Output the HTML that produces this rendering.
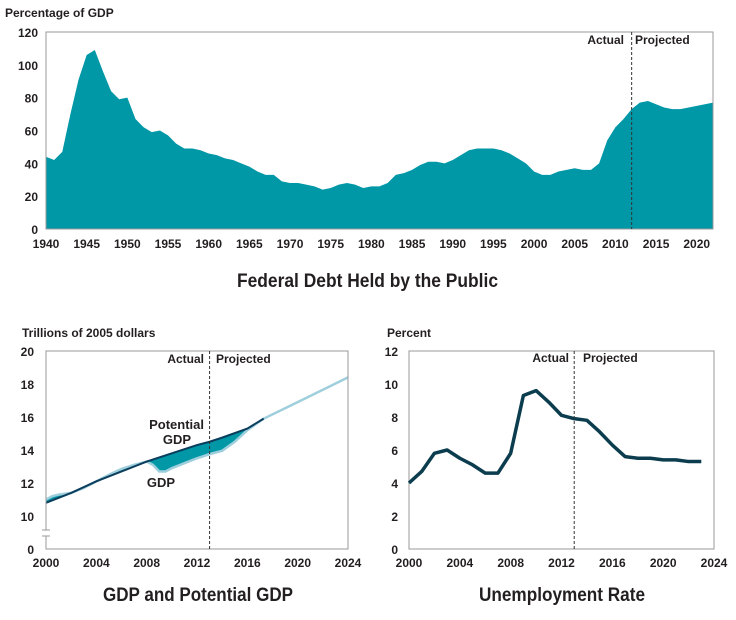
<!DOCTYPE html>
<html><head><meta charset="utf-8"><style>
body{margin:0;background:#fff}
svg{display:block;font-family:"Liberation Sans Narrow","Liberation Sans",sans-serif}
.t{font-weight:bold;fill:#231f20}
</style></head><body>
<svg id="s" width="736" height="620" viewBox="0 0 736 620"></svg>
<script>
const debtYears=[];for(let y=1940;y<=2022;y++)debtYears.push(y);
const debtValues=[44,42,47,70,91,106,109,96,84,79,80,67,62,59,60,57,52,49,49,48,46,45,43,42,40,38,35,33,33,29,28,28,27,26,24,25,27,28,27,25,26,26,28,33,34,36,39,41,41,40,42,45,48,49,49,49,48,46,43,40,35,33,33,35,36,37,36,36,40,54,62,67,73,77,78,76,74,73,73,74,75,76,77];
const debtXTicks=[1940,1945,1950,1955,1960,1965,1970,1975,1980,1985,1990,1995,2000,2005,2010,2015,2020];
const debtYTicks=[0,20,40,60,80,100,120];
const potYears=[2000,2002,2004,2006,2008,2010,2012,2013,2014,2016,2017.3];
const potValues=[10.8,11.4,12.1,12.7,13.3,13.8,14.3,14.5,14.75,15.3,15.9];
const gdpYears=[2000,2000.5,2001,2002,2003,2004,2005,2006,2007,2008,2008.5,2009,2009.5,2010,2011,2012,2013,2014,2015,2016,2017.3,2020,2024];
const gdpValues=[11.0,11.2,11.3,11.4,11.7,12.1,12.5,12.85,13.1,13.3,13.1,12.7,12.7,12.9,13.2,13.5,13.75,13.95,14.5,15.2,15.9,16.9,18.4];
const gdpYTicks=[10,12,14,16,18,20];
const xTicks2=[2000,2004,2008,2012,2016,2020,2024];
const unYears=[2000,2001,2002,2003,2004,2005,2006,2007,2008,2009,2010,2011,2012,2013,2014,2015,2016,2017,2018,2019,2020,2021,2022,2023];
const unValues=[4.0,4.7,5.8,6.0,5.5,5.1,4.6,4.6,5.8,9.3,9.6,8.9,8.1,7.9,7.8,7.1,6.3,5.6,5.5,5.5,5.4,5.4,5.3,5.3];
const unYTicks=[0,2,4,6,8,10,12];

const S=document.getElementById('s');const NS='http://www.w3.org/2000/svg';
function E(tag,at,txt){const e=document.createElementNS(NS,tag);for(const k in at)e.setAttribute(k,at[k]);if(txt!==undefined)e.textContent=txt;S.appendChild(e);return e;}
function T(x,y,s,size,anchor,name,fill,len){const at={x:x,y:y,'font-size':size,'text-anchor':anchor||'start',class:'t',fill:fill||'#231f20'};if(len){at.textLength=len;at.lengthAdjust='spacingAndGlyphs';}
const e=E('text',at,s);

return e;}

// top chart
const ax1=y=>46+(y-1940)*(713-46)/82, ay1=v=>229-v*(229-32)/120;
let d='M'+ax1(1940)+','+ay1(0);debtYears.forEach((y,i)=>d+='L'+ax1(y)+','+ay1(debtValues[i]));d+='L'+ax1(2022)+','+ay1(0)+'Z';
let a=E('path',{d:d,fill:'#0097a7'});


let f=E('rect',{x:46,y:32,width:667,height:197,fill:'none',stroke:'#999','stroke-width':1});


debtYTicks.forEach(v=>T(38,ay1(v)+5,v,12,'end','debt-y-tick'));
debtXTicks.forEach(y=>T(ax1(y),248,y,12,'middle','debt-x-tick'));
let l=E('line',{x1:ax1(2012),x2:ax1(2012),y1:32,y2:229,stroke:'#333','stroke-dasharray':'3,2','stroke-width':1});


T(624,44,'Actual',12,'end','debt-actual-label','#555');
T(635,44,'Projected',12,'start','debt-projected-label','#555');
T(5,17,'Percentage of GDP',12,'start','debt-y-axis-title');
T(237,287,'Federal Debt Held by the Public',19,'start','debt-chart-title',null,261);

// GDP chart
const ax2=y=>46+(y-2000)*(348-46)/24, ay2=v=>516-(v-10)*(516-351)/10;
let fp='';potYears.forEach((y,i)=>fp+=(i?'L':'M')+ax2(y)+','+ay2(potValues[i]));
for(let i=gdpYears.length-1;i>=0;i--)if(gdpYears[i]<=2017.3)fp+='L'+ax2(gdpYears[i])+','+ay2(gdpValues[i]);
a=E('path',{d:fp+'Z',fill:'#0097a7'});


let gp='';gdpYears.forEach((y,i)=>gp+=(i?'L':'M')+ax2(y)+','+ay2(gdpValues[i]));
a=E('path',{d:gp,fill:'none',stroke:'#9fcfdc','stroke-width':2.5});


let pp='';potYears.forEach((y,i)=>pp+=(i?'L':'M')+ax2(y)+','+ay2(potValues[i]));
a=E('path',{d:pp,fill:'none',stroke:'#0b3d5c','stroke-width':2});


E('path',{d:'M46,351H348V549H46Z',fill:'none',stroke:'#999'});
E('rect',{x:40,y:530,width:12,height:6,fill:'#fff'});
E('line',{x1:42,x2:50,y1:530,y2:530,stroke:'#999'});E('line',{x1:42,x2:50,y1:536,y2:536,stroke:'#999'});
gdpYTicks.forEach(v=>T(34,ay2(v)+5,v,12,'end','gdp-y-tick'));
T(34,554,'0',12,'end','gdp-y-tick');
xTicks2.forEach(y=>T(ax2(y),567,y,12,'middle','gdp-x-tick'));
l=E('line',{x1:ax2(2013),x2:ax2(2013),y1:351,y2:549,stroke:'#333','stroke-dasharray':'3,2'});


T(204,363,'Actual',12,'end','gdp-actual-label','#555');
T(216,363,'Projected',12,'start','gdp-projected-label','#555');
T(22,337,'Trillions of 2005 dollars',12,'start','gdp-y-axis-title');
T(204,429,'Potential',13,'end','potential-gdp-label');
T(191,444,'GDP',13,'end','potential-gdp-label-2');
T(161,487,'GDP',13,'middle','gdp-label');
T(103,601,'GDP and Potential GDP',19,'start','gdp-chart-title',null,190);

// Unemployment chart
const ax3=y=>409+(y-2000)*(714-409)/24, ay3=v=>549-v*(549-351)/12;
let up='';unYears.forEach((y,i)=>up+=(i?'L':'M')+ax3(y)+','+ay3(unValues[i]));
E('path',{d:'M409,351H714V549H409Z',fill:'none',stroke:'#999'});
a=E('path',{d:up,fill:'none',stroke:'#0b3d4e','stroke-width':3.5,'stroke-linejoin':'round'});


unYTicks.forEach(v=>T(398,ay3(v)+5,v,12,'end','unemp-y-tick'));
xTicks2.forEach(y=>T(ax3(y),567,y,12,'middle','unemp-x-tick'));
l=E('line',{x1:ax3(2013),x2:ax3(2013),y1:351,y2:549,stroke:'#333','stroke-dasharray':'3,2'});


T(569,362,'Actual',12,'end','unemp-actual-label','#555');
T(583,362,'Projected',12,'start','unemp-projected-label','#555');
T(387,337,'Percent',12,'start','unemp-y-axis-title');
T(479,601,'Unemployment Rate',19,'start','unemp-chart-title',null,166);
</script>
</body></html>
